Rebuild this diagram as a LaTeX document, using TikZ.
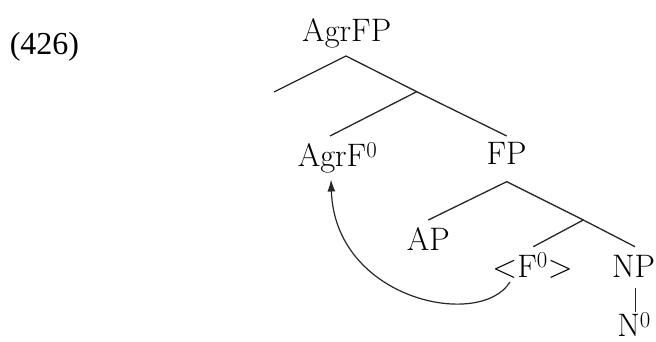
\documentclass[tikz,border=0pt]{standalone}
\usepackage{fontspec}
\newfontfamily\exfont{Liberation Serif}
\usetikzlibrary{arrows.meta}
\tikzset{
  lbl/.style={anchor=base, inner sep=0pt, font=\fontsize{32.5}{38}\selectfont},
  br/.style={draw=black!85, line width=1.3pt},
  mv/.style={draw=black!85, line width=1.2pt, -{Latex[length=12pt,width=8pt]}}
}
\begin{document}
\begin{tikzpicture}[x=1pt,y=-1pt]
\useasboundingbox (0,0) rectangle (656,342);
% example number
\node[anchor=base, inner sep=0pt, font=\exfont\fontsize{32}{38}\selectfont] (ex) at (44.5,55) {(426)};
% labels
\node[lbl] (agrfp) at (346.7,41.5) {AgrFP};
\node[lbl] (agrf) at (337.5,167) {AgrF\textsuperscript{0}};
\node[lbl] (fp) at (506.5,164.5) {FP};
\node[lbl] (ap) at (428.3,250) {AP};
\node[lbl] (f0) at (532.5,277) {<F\textsuperscript{0}>};
\node[lbl] (np) at (633.5,277) {NP};
\node[lbl] (n0) at (634,336.5) {N\textsuperscript{0}};
% branch points
\coordinate (a1) at (346,56);
\coordinate (l1) at (274,92);
\coordinate (j1) at (416.7,91.7);
\coordinate (agrtop) at (330,136);
\coordinate (fptop) at (506.7,136);
\coordinate (a2) at (506.7,181.7);
\coordinate (aptop) at (428.3,220);
\coordinate (j2) at (583.3,220);
\coordinate (f0top) at (533.3,246.7);
\coordinate (nptop) at (635,246.7);
\coordinate (npbot) at (635.7,288);
\coordinate (n0top) at (635.7,312);
\coordinate (mvs) at (510,282);
\coordinate (mve) at (331,179.5);
% tree lines
\draw[br] (l1) -- (a1) -- (j1) -- (fptop);
\draw[br] (j1) -- (agrtop);
\draw[br] (aptop) -- (a2) -- (j2) -- (nptop);
\draw[br] (j2) -- (f0top);
\draw[br] (npbot) -- (n0top);
% movement arrow
\draw[mv] (mvs) .. controls (480,330) and (335,300) .. (mve);
\end{tikzpicture}
\end{document}
